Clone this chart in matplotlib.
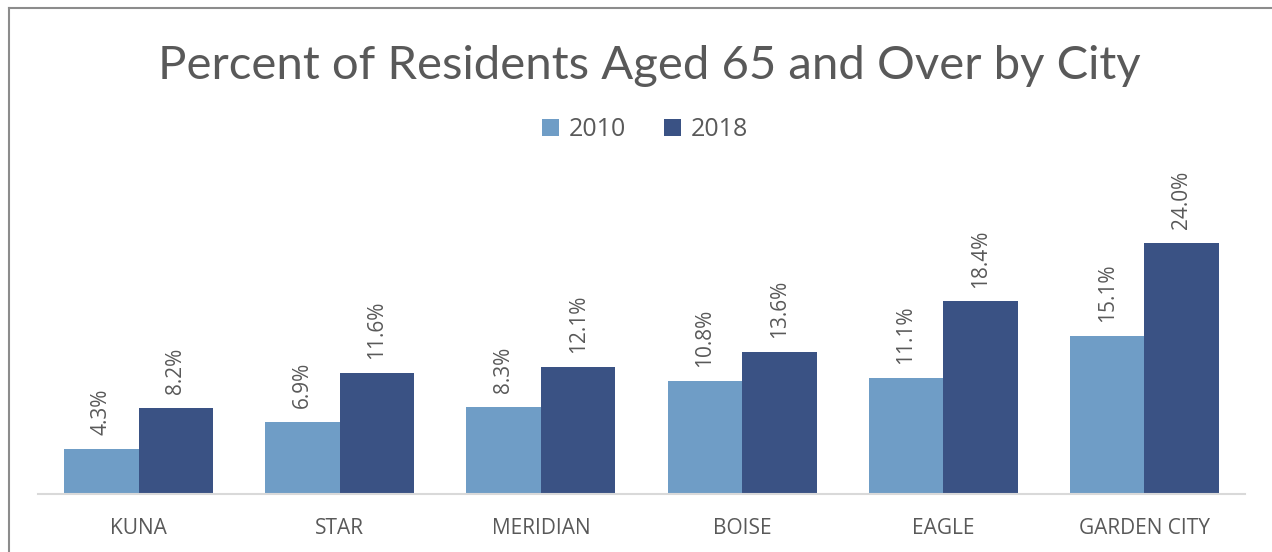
import numpy as np
import matplotlib.pyplot as plt
from matplotlib.lines import Line2D

# Data
cities = ['KUNA', 'STAR', 'MERIDIAN', 'BOISE', 'EAGLE', 'GARDEN CITY']
pct_2010 = [4.3, 6.9, 8.3, 10.8, 11.1, 15.1]
pct_2018 = [8.2, 11.6, 12.1, 13.6, 18.4, 24.0]
years = ['2010', '2018']

color_2010 = '#6F9DC6'
color_2018 = '#3A5284'
text_gray = '#595959'

W, H = 1272, 552
fig = plt.figure(figsize=(W / 100, H / 100), dpi=100)

# axes placed in pixel coordinates
left, right, bottom, top = 38, 1245, 494, 180
ax = fig.add_axes([left / W, 1 - bottom / H, (right - left) / W, (bottom - top) / H])

x = np.arange(len(cities))
bw = 0.37
b1 = ax.bar(x - bw / 2, pct_2010, bw, color=color_2010, label=years[0])
b2 = ax.bar(x + bw / 2, pct_2018, bw, color=color_2018, label=years[1])

for bars, vals in [(b1, pct_2010), (b2, pct_2018)]:
    for rect, v in zip(bars, vals):
        ax.annotate(f'{v:.1f}%', (rect.get_x() + rect.get_width() / 2, rect.get_height()),
                    xytext=(0, 10), textcoords='offset points', rotation=90,
                    ha='center', va='bottom', fontsize=15, color=text_gray,
                    family='Open Sans')

ax.set_xlim(-0.5, len(cities) - 0.5)
ax.set_ylim(0, 30)
ax.set_xticks(x)
ax.set_xticklabels(cities, fontsize=15, color=text_gray, family='Open Sans')
ax.tick_params(axis='x', length=0, pad=17)
ax.set_yticks([])
for s in ['top', 'right', 'left']:
    ax.spines[s].set_visible(False)
ax.spines['bottom'].set_color('#D9D9D9')
ax.spines['bottom'].set_linewidth(1.5)

fig.text(649 / W, 1 - 66 / H, 'Percent of Residents Aged 65 and Over by City',
         ha='center', va='center', fontsize=34, color=text_gray, family='Lato')

fig.legend(loc='center', bbox_to_anchor=(645 / W, 1 - 130 / H), ncol=2, frameon=False,
           prop={'family': 'Open Sans', 'size': 18}, labelcolor=text_gray,
           handlelength=0.7, handleheight=0.7, handletextpad=0.4, columnspacing=1.5)

# chart border (cut off at right and bottom)
fig.add_artist(Line2D([9 / W, 9 / W], [0, 1 - 8 / H], transform=fig.transFigure,
                      color='#8C8C8C', lw=1.5))
fig.add_artist(Line2D([9 / W, 1], [1 - 8 / H, 1 - 8 / H], transform=fig.transFigure,
                      color='#8C8C8C', lw=1.5))

fig.savefig('out.png', dpi=100)
